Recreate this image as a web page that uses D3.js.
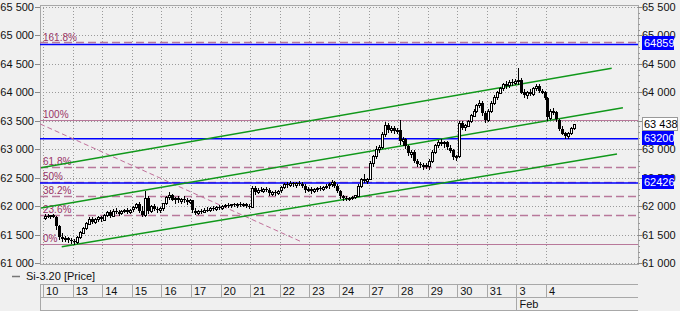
<!DOCTYPE html>
<html lang="en">
<head>
<meta charset="UTF-8">
<title>Si-3.20 [Price]</title>
<script src="https://cdnjs.cloudflare.com/ajax/libs/d3/7.8.5/d3.min.js"></script>
<style>
    body { margin: 0; background: #f0f0f0; }
    svg { display: block; font-family: Arial, "Liberation Sans", sans-serif; }
    .tick-label { font-size: 11px; fill: #111; }
    .fib-label { font-size: 10px; fill: #993366; }
    .grid { stroke: #9a9a9a; stroke-dasharray: 1,2; shape-rendering: crispEdges; }
    .frame { fill: none; stroke: #a8a8a8; shape-rendering: crispEdges; }
</style>
</head>
<body>
<div id="chart"></div>
<script>
// trading days shown on the time axis
const dayLabels = ["10", "13", "14", "15", "16", "17", "20", "21", "22", "23", "24", "27", "28", "29", "30", "31", "3", "4"];
const monthLabels = [{ day: 16, text: "Feb" }];
const priceTicks = [61000, 61500, 62000, 62500, 63000, 63500, 64000, 64500, 65000, 65500];

// fibonacci retracement levels
const fibNames = ["0%", "23.6%", "38.2%", "50%", "61.8%", "100%", "161.8%"];
const fibPrices = [61338, 61852, 62169, 62426, 62683, 63514, 64859];
const fibSolid = [true, false, false, false, false, true, false];

// horizontal blue levels and the last price
const blueLevels = [64859, 63200, 62426];
const lastPrice = 63438;

// trend channel (day position, price)
const channels = [
    [[-0.07, 62675], [19.22, 64423]],
    [[-0.07, 61967], [19.60, 63730]],
    [[0.63, 61287], [19.40, 62916]]
];
const diagonal = [[-0.1, 63444], [8.75, 61369]];

// hourly candles per day: [open, high, low, close]
const candles = [
    [[61800,61860,61780,61830],[61830,61870,61800,61820],[61820,61850,61790,61840],[61840,61860,61800,61810],[61810,61830,61600,61650],
     [61650,61660,61420,61450],[61450,61520,61380,61420],[61420,61470,61380,61440],[61440,61460,61370,61400],[61400,61440,61360,61390]],
    [[61390,61420,61338,61370],[61370,61480,61360,61460],[61460,61560,61440,61540],[61540,61640,61520,61620],[61620,61720,61600,61700],
     [61700,61800,61680,61780],[61780,61810,61700,61720],[61720,61790,61700,61770],[61770,61830,61740,61800],[61800,61820,61730,61760]],
    [[61760,61870,61750,61850],[61850,61920,61830,61900],[61900,61930,61800,61830],[61830,61950,61820,61920],[61920,61960,61880,61900],
     [61900,61940,61850,61870],[61870,61930,61860,61910],[61910,61950,61890,61930],[61930,61960,61880,61900],[61900,61950,61880,61940]],
    [[61940,62000,61920,61980],[61980,62060,61960,62040],[62040,62070,61900,61920],[61920,62000,61830,61850],[61850,62270,61820,62150],
     [62150,62180,61880,61920],[61920,62020,61900,62000],[62000,62030,61930,61950],[61950,61990,61900,61930],[61930,61980,61900,61960]],
    [[61960,62060,61940,62050],[62050,62180,62030,62160],[62160,62240,62120,62200],[62200,62220,62100,62120],[62120,62160,62060,62140],
     [62140,62180,62080,62100],[62100,62150,62060,62130],[62130,62170,62080,62110],[62110,62140,62040,62070],[62070,62120,62050,62100]],
    [[62100,62110,61900,61920],[61920,61960,61870,61890],[61890,61940,61870,61920],[61920,61950,61880,61900],[61900,61960,61890,61940],
     [61940,61980,61910,61930],[61930,61990,61920,61970],[61970,62000,61940,61960],[61960,62010,61940,61990],[61990,62020,61950,61970]],
    [[61970,62020,61950,62000],[62000,62040,61980,62020],[62020,62050,61990,62010],[62010,62040,61980,62030],[62030,62060,62000,62020],
     [62020,62050,61990,62040],[62040,62070,62010,62030],[62030,62060,62000,62040],[62040,62060,61990,62010],[62010,62040,61960,61990]],
    [[61990,62360,61980,62320],[62320,62350,62220,62250],[62250,62310,62230,62290],[62290,62330,62260,62270],[62270,62320,62250,62300],
     [62300,62340,62260,62280],[62280,62310,62200,62220],[62220,62270,62190,62250],[62250,62280,62200,62230],[62230,62290,62210,62270]],
    [[62270,62350,62250,62330],[62330,62400,62310,62380],[62380,62420,62340,62360],[62360,62440,62350,62400],[62400,62430,62360,62380],
     [62380,62420,62340,62410],[62410,62440,62370,62390],[62390,62420,62330,62350],[62350,62380,62250,62280],[62280,62330,62260,62300]],
    [[62300,62340,62230,62260],[62260,62320,62240,62300],[62300,62340,62270,62320],[62320,62350,62280,62300],[62300,62360,62290,62340],
     [62340,62380,62310,62360],[62360,62400,62320,62380],[62380,62460,62360,62420],[62420,62450,62330,62350],[62350,62380,62240,62260]],
    [[62260,62280,62150,62170],[62170,62200,62110,62140],[62140,62170,62110,62130],[62130,62160,62100,62150],[62150,62180,62120,62160],
     [62160,62200,62140,62190],[62190,62380,62180,62360],[62360,62500,62340,62480],[62480,62560,62420,62450],[62450,62500,62400,62480]],
    [[62480,62800,62470,62760],[62760,62900,62700,62880],[62880,63050,62850,63000],[63000,63080,62950,63040],[63040,63300,63020,63260],
     [63260,63480,63240,63420],[63420,63460,63300,63340],[63340,63400,63300,63370],[63370,63400,63290,63320],[63320,63380,63280,63340]],
    [[63340,63510,63100,63150],[63150,63220,63080,63180],[63180,63200,63020,63050],[63050,63080,62900,62920],[62920,62980,62860,62950],
     [62950,62990,62780,62800],[62800,62830,62700,62740],[62740,62780,62690,62730],[62730,62760,62650,62700],[62700,62750,62670,62720]],
    [[62720,62820,62650,62800],[62800,62980,62780,62950],[62950,63100,62930,63080],[63080,63160,63040,63130],[63130,63180,63070,63100],
     [63100,63150,63040,63120],[63120,63140,63000,63030],[63030,63080,62950,62980],[62980,63000,62830,62860],[62860,62900,62810,62880]],
    [[62880,63500,62870,63460],[63460,63500,63350,63380],[63380,63450,63340,63420],[63420,63520,63400,63500],[63500,63620,63480,63600],
     [63600,63700,63580,63680],[63680,63800,63650,63780],[63780,63870,63740,63820],[63820,63840,63600,63640],[63640,63680,63480,63520]],
    [[63520,63700,63500,63680],[63680,63850,63660,63820],[63820,63950,63800,63920],[63920,64020,63880,64000],[64000,64100,63980,64080],
     [64080,64170,64040,64150],[64150,64200,64080,64120],[64120,64210,64100,64180],[64180,64230,64130,64160],[64160,64240,64140,64200]],
    [[64200,64420,64150,64220],[64220,64250,63980,64000],[64000,64060,63920,63950],[63950,64030,63900,64010],[64010,64060,63960,63980],
     [63980,64100,63960,64080],[64080,64140,64040,64120],[64120,64150,64010,64030],[64030,64060,63980,64000],[64000,64020,63880,63900]],
    [[63900,63920,63520,63560],[63560,63700,63540,63680],[63680,63720,63620,63650],[63650,63680,63500,63520],[63520,63540,63330,63360],
     [63360,63400,63260,63280],[63280,63300,63190,63220],[63220,63300,63200,63280],[63280,63390,63260,63370],[63370,63450,63350,63438]]
];

const width = 680, height = 311;
const plot = { left: 40, right: 638, top: 5, bottom: 264 };
const fibColor = "#b8789a";
const blue = "#0000ff";

const x = d3.scaleLinear().domain([0, 17]).range([43.1, 546]);
const y = d3.scaleLinear().domain([61000, 65500]).range([263, 7]);
const fmt = v => d3.format(",")(v).replace(",", " ");

const svg = d3.select("#chart").append("svg")
    .attr("width", width)
    .attr("height", height);

svg.append("rect").attr("width", width).attr("height", height).attr("fill", "#f0f0f0");

// grid
svg.append("g").selectAll("line").data(priceTicks).join("line")
    .attr("class", "grid")
    .attr("x1", plot.left).attr("x2", plot.right)
    .attr("y1", d => Math.round(y(d)) + 0.5).attr("y2", d => Math.round(y(d)) + 0.5);

svg.append("g").selectAll("line").data(d3.range(dayLabels.length)).join("line")
    .attr("class", "grid")
    .attr("x1", d => Math.round(x(d)) + 0.5).attr("x2", d => Math.round(x(d)) + 0.5)
    .attr("y1", plot.top).attr("y2", plot.bottom);

svg.append("rect")
    .attr("class", "frame")
    .attr("x", plot.left + 0.5).attr("y", plot.top + 0.5)
    .attr("width", plot.right - plot.left).attr("height", plot.bottom - plot.top);

// left price axis
const leftAxis = svg.append("g");
leftAxis.selectAll("line").data(priceTicks).join("line")
    .attr("x1", 35).attr("x2", plot.left)
    .attr("y1", d => Math.round(y(d)) + 0.5).attr("y2", d => Math.round(y(d)) + 0.5)
    .attr("stroke", "#888");
leftAxis.selectAll("text").data(priceTicks).join("text")
    .attr("class", "tick-label")
    .attr("x", 34).attr("y", d => y(d) + 4)
    .attr("text-anchor", "end")
    .text(fmt);

// right price axis with minor ticks
const rightAxis = svg.append("g");
rightAxis.selectAll("line.minor").data(d3.range(61000, 65501, 100)).join("line")
    .attr("class", "minor")
    .attr("x1", plot.right).attr("x2", plot.right + 2)
    .attr("y1", d => Math.round(y(d)) + 0.5).attr("y2", d => Math.round(y(d)) + 0.5)
    .attr("stroke", "#999");
rightAxis.selectAll("line.major").data(priceTicks).join("line")
    .attr("class", "major")
    .attr("x1", plot.right).attr("x2", plot.right + 4)
    .attr("y1", d => Math.round(y(d)) + 0.5).attr("y2", d => Math.round(y(d)) + 0.5)
    .attr("stroke", "#888");
rightAxis.selectAll("text").data(priceTicks).join("text")
    .attr("class", "tick-label")
    .attr("x", plot.right + 4).attr("y", d => y(d) + 4)
    .text(fmt);

// fibonacci lines
const fib = fibPrices.map((p, i) => ({ p, name: fibNames[i], solid: fibSolid[i] }));
svg.append("g").selectAll("line").data(fib).join("line")
    .attr("x1", plot.left).attr("x2", plot.right)
    .attr("y1", d => Math.round(y(d.p)) - (d.p === 64859 ? 1 : 0) + 0.5)
    .attr("y2", d => Math.round(y(d.p)) - (d.p === 64859 ? 1 : 0) + 0.5)
    .attr("stroke", fibColor)
    .attr("stroke-width", d => d.solid ? 1 : 1.5)
    .attr("stroke-dasharray", d => d.solid ? null : "8,4");

svg.append("g").selectAll("text").data(fib).join("text")
    .attr("class", "fib-label")
    .attr("x", 43).attr("y", d => y(d.p) - 2)
    .text(d => d.name);

// blue levels
svg.append("g").selectAll("line").data(blueLevels).join("line")
    .attr("x1", plot.left).attr("x2", plot.right)
    .attr("y1", d => y(d) + 1).attr("y2", d => y(d) + 1)
    .attr("stroke", blue)
    .attr("stroke-width", 1.5);

// dashed diagonal
svg.append("line")
    .attr("x1", x(diagonal[0][0])).attr("y1", y(diagonal[0][1]))
    .attr("x2", x(diagonal[1][0])).attr("y2", y(diagonal[1][1]))
    .attr("stroke", "#c0709a")
    .attr("stroke-dasharray", "5,3");

// channel
svg.append("g").selectAll("line").data(channels).join("line")
    .attr("x1", d => x(d[0][0])).attr("y1", d => y(d[0][1]))
    .attr("x2", d => x(d[1][0])).attr("y2", d => y(d[1][1]))
    .attr("stroke", "#10981a")
    .attr("stroke-width", 1.5);

// candles
const bars = candles.flatMap((day, i) => day.map((c, j) => ({
    px: Math.round(x(i + (j + 0.5) / day.length)),
    o: c[0], h: c[1], l: c[2], c: c[3]
})));

const cg = svg.append("g").attr("shape-rendering", "crispEdges");
cg.selectAll("line").data(bars).join("line")
    .attr("x1", d => d.px + 0.5).attr("x2", d => d.px + 0.5)
    .attr("y1", d => Math.round(y(d.h))).attr("y2", d => Math.round(y(d.l)) + 1)
    .attr("stroke", "#000");

cg.selectAll("rect").data(bars).join("rect")
    .attr("x", d => d.c >= d.o ? d.px - 0.5 : d.px - 1)
    .attr("y", d => Math.round(y(Math.max(d.o, d.c))) + (d.c >= d.o ? 0.5 : 0))
    .attr("width", d => d.c >= d.o ? 2 : 3)
    .attr("height", d => Math.max(1, Math.round(Math.abs(y(d.o) - y(d.c)))))
    .attr("fill", d => d.c >= d.o ? "#fff" : "#000")
    .attr("stroke", d => d.c >= d.o ? "#000" : "none");

// price badges on the right
function badge(value, fill, textColor, label, w) {
    const g = svg.append("g").attr("transform", `translate(${plot.right + 4}, ${Math.round(y(value))})`);
    g.append("rect")
        .attr("x", 0.5).attr("y", -6.5)
        .attr("width", w).attr("height", 13)
        .attr("fill", fill)
        .attr("stroke", fill === "#fff" ? "#999" : fill);
    g.append("text")
        .attr("class", "tick-label")
        .attr("x", 2).attr("y", 4)
        .style("fill", textColor)
        .text(label);
}
blueLevels.forEach(v => badge(v, blue, "#fff", String(v), 31));
badge(lastPrice, "#fff", "#000", fmt(lastPrice), 35);

// legend
svg.append("line")
    .attr("x1", 12).attr("x2", 20).attr("y1", 276.5).attr("y2", 276.5)
    .attr("stroke", "#777").attr("stroke-width", 1.5);
svg.append("text")
    .attr("class", "tick-label")
    .attr("x", 26).attr("y", 280)
    .text("Si-3.20 [Price]");

// time axis
const axisTop = 284, axisMid = 297, axisBottom = 310;
const tg = svg.append("g").attr("shape-rendering", "crispEdges");
[axisTop, axisMid, axisBottom].forEach(v => {
    tg.append("line")
        .attr("x1", plot.left).attr("x2", plot.right)
        .attr("y1", v + 0.5).attr("y2", v + 0.5)
        .attr("stroke", "#a8a8a8");
});
tg.append("line")
    .attr("x1", plot.left + 0.5).attr("x2", plot.left + 0.5)
    .attr("y1", axisTop).attr("y2", axisBottom)
    .attr("stroke", "#a8a8a8");
tg.selectAll("line.day").data(dayLabels).join("line")
    .attr("class", "day")
    .attr("x1", (d, i) => Math.round(x(i)) + 0.5).attr("x2", (d, i) => Math.round(x(i)) + 0.5)
    .attr("y1", axisTop).attr("y2", axisMid)
    .attr("stroke", "#a8a8a8");
svg.selectAll("text.day").data(dayLabels).join("text")
    .attr("class", "tick-label day")
    .attr("x", (d, i) => x(i) + 3).attr("y", 295)
    .text(d => d);
monthLabels.forEach(m => {
    tg.append("line")
        .attr("x1", Math.round(x(m.day)) + 0.5).attr("x2", Math.round(x(m.day)) + 0.5)
        .attr("y1", axisMid).attr("y2", axisBottom)
        .attr("stroke", "#a8a8a8");
    svg.append("text")
        .attr("class", "tick-label")
        .attr("x", x(m.day) + 3).attr("y", 307.5)
        .text(m.text);
});
</script>
</body>
</html>
